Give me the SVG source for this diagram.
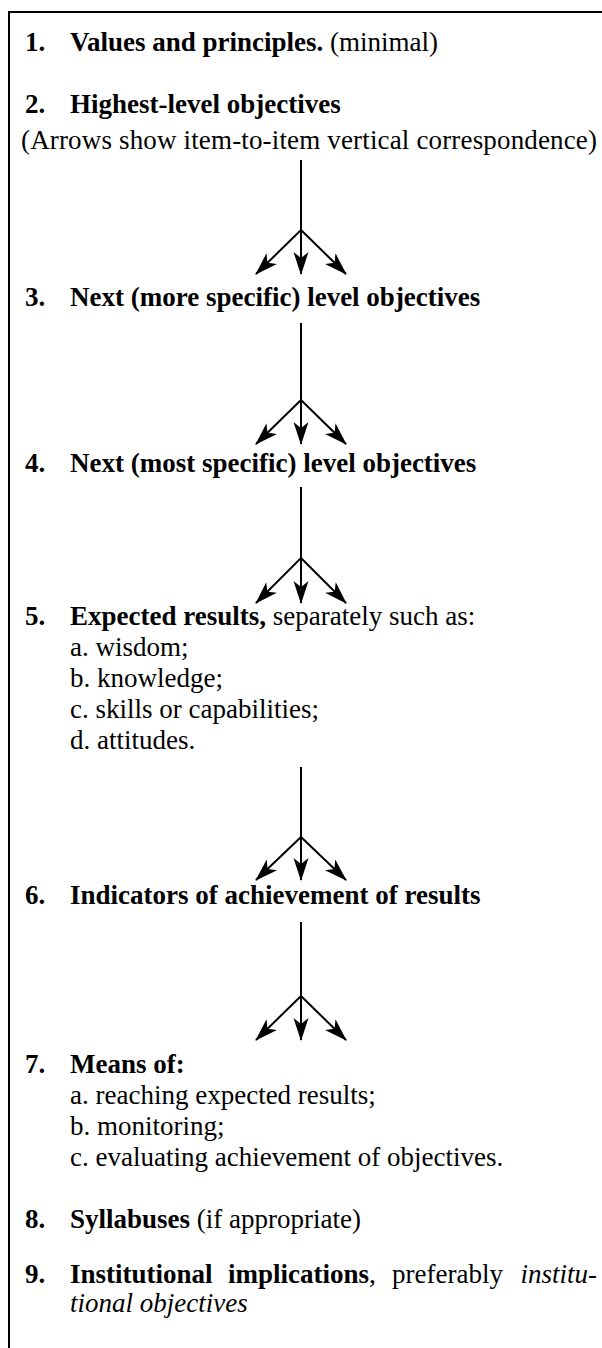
<svg xmlns="http://www.w3.org/2000/svg" width="602" height="1348" viewBox="0 0 602 1348">
<style>
text{font-family:"Liberation Serif","Times New Roman",serif;font-size:27px;fill:#000}
.b{font-weight:bold}
.i{font-style:italic}
.ln{stroke:#000;stroke-width:2;fill:none}
.ar{stroke:#000;stroke-width:2;fill:none;marker-end:url(#ah)}
</style>
<defs>
<marker id="ah" markerUnits="userSpaceOnUse" markerWidth="26" markerHeight="18" viewBox="-24 -9 26 18" refX="0" refY="0" orient="auto">
<path d="M1,0 L-22,-7.5 L-16,0 L-22,7.5 Z" fill="#000"/>
</marker>
</defs>
<rect width="602" height="1348" fill="#fff"/>
<g id="frame">
<line class="ln" x1="9" y1="12" x2="602" y2="12"/>
<line class="ln" x1="9" y1="11" x2="9" y2="1348"/>
</g>
<g id="n1"><text x="25" y="51" class="b">1.</text><text x="70" y="51"><tspan class="b">Values and principles.</tspan> (minimal)</text></g>
<g id="n2"><text x="25" y="113" class="b">2.</text><text x="70" y="113" class="b">Highest-level objectives</text>
<text x="21" y="149" textLength="576" lengthAdjust="spacing">(Arrows show item-to-item vertical correspondence)</text></g>
<g id="n3"><text x="25" y="306" class="b">3.</text><text x="70" y="306" class="b">Next (more specific) level objectives</text></g>
<g id="n4"><text x="25" y="472" class="b">4.</text><text x="70" y="472" class="b">Next (most specific) level objectives</text></g>
<g id="n5"><text x="25" y="625" class="b">5.</text><text x="70" y="625"><tspan class="b">Expected results,</tspan> separately such as:</text>
<text x="70" y="656">a. wisdom;</text>
<text x="70" y="687">b. knowledge;</text>
<text x="70" y="718">c. skills or capabilities;</text>
<text x="70" y="749">d. attitudes.</text></g>
<g id="n6"><text x="25" y="904" class="b">6.</text><text x="70" y="904" class="b">Indicators of achievement of results</text></g>
<g id="n7"><text x="25" y="1073" class="b">7.</text><text x="70" y="1073" class="b">Means of:</text>
<text x="70" y="1104">a. reaching expected results;</text>
<text x="70" y="1135">b. monitoring;</text>
<text x="70" y="1166">c. evaluating achievement of objectives.</text></g>
<g id="n8"><text x="25" y="1228" class="b">8.</text><text x="70" y="1228"><tspan class="b">Syllabuses</tspan> (if appropriate)</text></g>
<g id="n9"><text x="25" y="1283" class="b">9.</text>
<text x="70" y="1283" class="b">Institutional</text>
<text x="228" y="1283"><tspan class="b">implications</tspan>,</text>
<text x="392" y="1283">preferably</text>
<text x="597" y="1283" class="i" text-anchor="end">institu-</text>
<text x="70" y="1312" class="i">tional objectives</text></g>
<g id="connectors">
<g id="a1"><line class="ar" x1="301" y1="160" x2="301" y2="274"/><line class="ar" x1="301" y1="230" x2="256" y2="274"/><line class="ar" x1="301" y1="230" x2="346" y2="274"/></g>
<g id="a2"><line class="ar" x1="301" y1="323" x2="301" y2="444"/><line class="ar" x1="301" y1="400" x2="256" y2="444"/><line class="ar" x1="301" y1="400" x2="346" y2="444"/></g>
<g id="a3"><line class="ar" x1="301" y1="487" x2="301" y2="603"/><line class="ar" x1="301" y1="558" x2="256" y2="603"/><line class="ar" x1="301" y1="558" x2="346" y2="603"/></g>
<g id="a4"><line class="ar" x1="301" y1="767" x2="301" y2="880"/><line class="ar" x1="301" y1="837" x2="256" y2="880"/><line class="ar" x1="301" y1="837" x2="346" y2="880"/></g>
<g id="a5"><line class="ar" x1="301" y1="922" x2="301" y2="1040"/><line class="ar" x1="301" y1="996" x2="256" y2="1040"/><line class="ar" x1="301" y1="996" x2="346" y2="1040"/></g>
</g>
</svg>
